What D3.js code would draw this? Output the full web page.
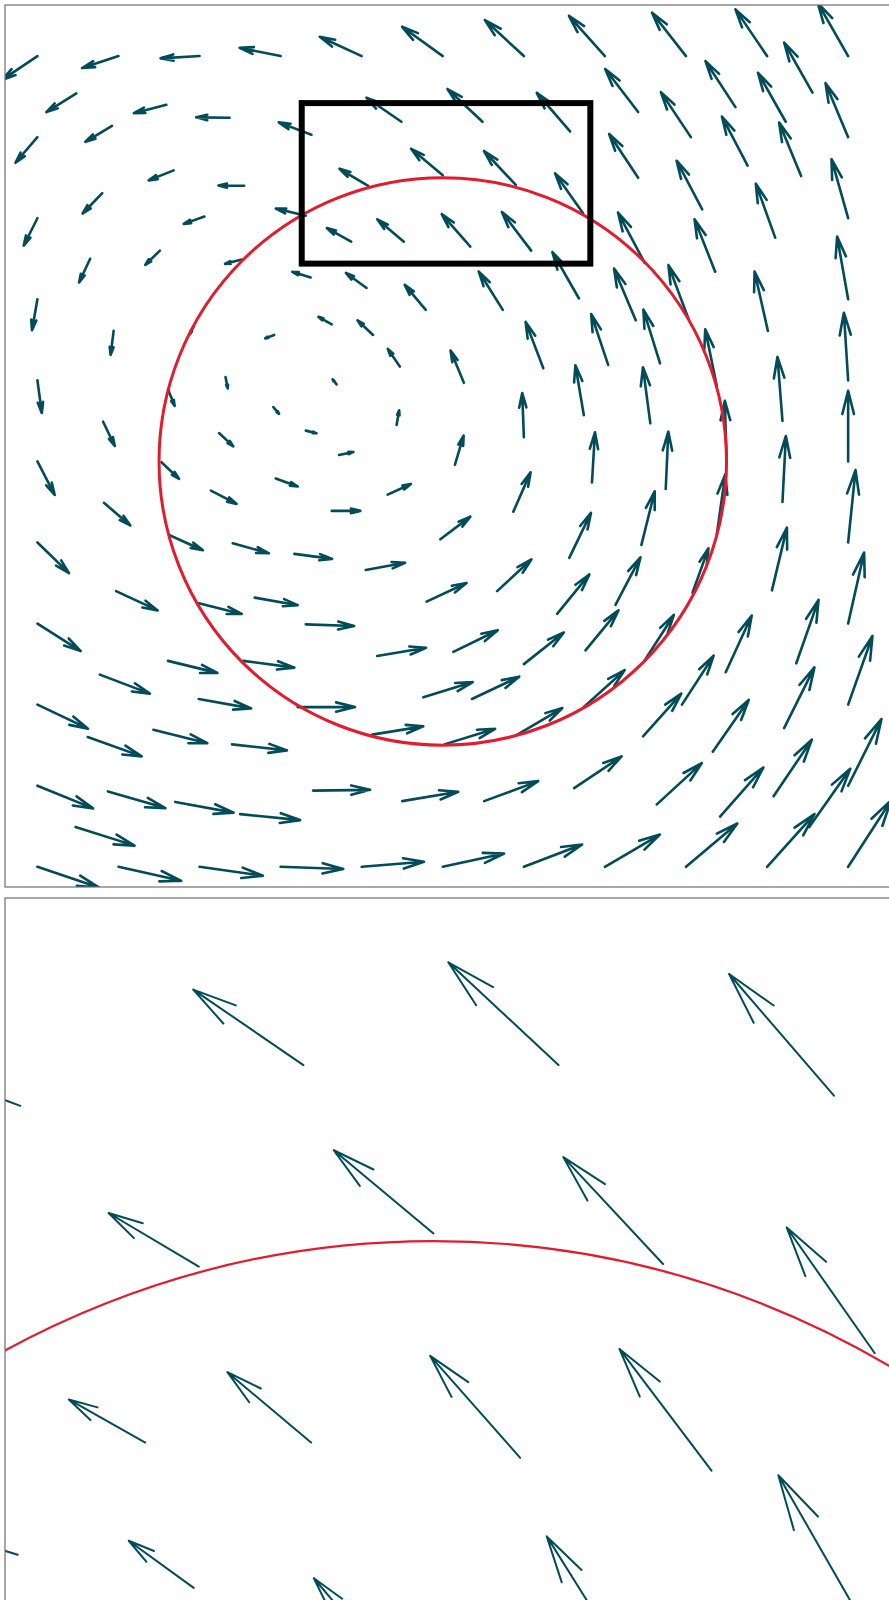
<!DOCTYPE html>
<html>
<head>
<meta charset="utf-8">
<script src="https://cdn.jsdelivr.net/npm/d3@7"></script>
<style>
  html, body { margin: 0; padding: 0; background: #fff; overflow: hidden; }
</style>
</head>
<body>
<svg id="fig" width="889" height="1600"></svg>
<script>
// Sample points of the flow field (tail positions) and the vector at each one.
const tailX = [
  0, 1, 2, 3, 4, 5, 6, 7, 8, 9, 10,
  0.48, 1.59, 2.37, 3.38, 0, 0.92, 1.68, 2.55, 3.31, 0.80, 2.06, 0, 1.51, 2.52, 3.37, 0.65,
  4.49, 5.49, 6.57, 5.00, 5.90, 6.73, 4.08, 3.87, 4.52, 5.34, 6.09, 6.68, 5.74, 4.79, 4.06,
  7.41, 8.61, 9.56, 9.23, 8.06, 10, 7.41, 8.76, 9.42, 8.20, 10, 9.10, 7.49, 8.36, 10, 7.38, 8.03, 9.01,
  0, 0.94, 1.93, 2.92, 0, 2.32, 1.61, 2.91, 0.81, 2.24, 0, 1.53, 2.94, 2.14, 0.82, 1.63, 2.41, 3.17, 0, 0.97,
  3.63, 4.14, 4.47, 5.26, 6.24, 7.04, 3.69, 4.43, 6.00, 6.74, 6.84, 3.31, 3.72, 5.15, 4.32, 3.63, 5.87, 4.97, 6.56, 4.05, 5.67, 4.80, 6.41,
  7.68, 8.38, 8.50, 8.38, 7.56, 9.19, 10, 7.75, 9.19, 10, 7.45, 10, 9.06, 7.13, 8.08, 10,
  6.76, 7.48, 6.74, 8.49, 9.36, 7.95, 10, 7.47, 9.21, 8.33, 6.62, 7.64, 9.08, 10, 8.42, 9.52, 7, 8, 9, 10,
  2.68, 3.31, 4.19, 5.13, 6.00, 3.21, 4.76, 5.36, 5.92, 4.13, 5.02, 3.40, 4.50, 5.51, 3, 4, 5, 6,
  1.99, 0, 1.61, 2.54, 0.77, 1.99, 0, 1.43, 2.40, 0.62, 0, 0.87, 1.70, 2.50, 0.47, 0, 1, 2
];
const tailY = [
  10, 10, 10, 10, 10, 10, 10, 10, 10, 10, 10,
  9.54, 9.40, 9.24, 9.03, 9, 9.14, 8.59, 8.40, 8.03, 8.31, 8.02, 8, 7.60, 7.49, 7.27, 7.50,
  9.19, 9.19, 9.07, 8.53, 8.41, 8.06, 8.40, 7.71, 7.71, 7.65, 7.60, 7.01, 6.87, 6.87, 7.14,
  9.31, 9.37, 9.55, 9.19, 9.00, 9, 8.50, 8.65, 8.52, 8.11, 8, 7.76, 7.45, 7.34, 7, 6.74, 6.76, 6.61,
  7, 6.61, 6.67, 6.56, 6, 6.04, 5.89, 5.67, 5.49, 5.35, 5, 4.99, 4.79, 4.64, 4.49, 4.09, 3.99, 3.86, 4, 3.40,
  6.69, 6.56, 6.17, 5.97, 6.15, 6.19, 5.95, 5.45, 5.30, 5.57, 4.74, 5.38, 5.08, 4.96, 4.59, 4.39, 4.38, 4.04, 3.81, 3.66, 3.40, 3.27, 3.12,
  6.21, 5.93, 5.02, 4.10, 5.47, 5.50, 6, 4.66, 4.50, 5, 3.97, 4, 3.41, 3.23, 3.38, 3,
  2.67, 2.53, 1.97, 2.40, 2.51, 2.00, 2, 1.61, 1.71, 1.42, 0.97, 0.77, 0.87, 1, 0.62, 0.49, 0, 0, 0, 0,
  3.32, 2.99, 2.60, 2.65, 2.50, 1.97, 2.09, 2.07, 1.63, 1.63, 1.51, 0.94, 0.81, 0.81, 0, 0, 0, 0,
  3.25, 3, 2.54, 2.54, 2.37, 2.07, 2, 1.69, 1.51, 1.60, 1, 0.93, 0.80, 0.65, 0.49, 0, 0, 0
];
const vecU = [
  -0.440, -0.448, -0.481, -0.506, -0.518, -0.502, -0.481, -0.444, -0.419, -0.390, -0.374,
  -0.370, -0.400, -0.411, -0.403, -0.271, -0.328, -0.308, -0.317, -0.370, -0.242, -0.255, -0.169, -0.180, -0.206, -0.226, -0.136,
  -0.432, -0.432, -0.411, -0.391, -0.391, -0.345, -0.354, -0.300, -0.328, -0.353, -0.361, -0.328, -0.296, -0.259, -0.255,
  -0.407, -0.370, -0.349, -0.342, -0.370, -0.279, -0.358, -0.317, -0.271, -0.316, -0.205, -0.239, -0.329, -0.255, -0.136, -0.268, -0.247, -0.164,
  -0.067, -0.037, -0.049, -0.111, 0.054, 0.028, 0.083, 0.070, 0.144, 0.176, 0.213, 0.217, 0.271, 0.317, 0.326, 0.411, 0.444, 0.465, 0.390, 0.513,
  -0.164, -0.192, -0.148, -0.164, -0.218, -0.210, -0.049, 0.032, -0.020, -0.104, 0.037, 0.132, 0.178, 0.107, 0.287, 0.353, 0.213, 0.370, 0.268, 0.485, 0.423, 0.493, 0.398,
  -0.206, -0.143, -0.021, 0.104, -0.091, -0.062, -0.053, 0.032, 0.042, 0, 0.164, 0.091, 0.185, 0.308, 0.197, 0.197,
  0.407, 0.370, 0.504, 0.321, 0.275, 0.391, 0.300, 0.472, 0.374, 0.444, 0.585, 0.555, 0.472, 0.411, 0.534, 0.506, 0.678, 0.633, 0.585, 0.530,
  0.530, 0.596, 0.604, 0.548, 0.493, 0.707, 0.609, 0.583, 0.555, 0.629, 0.625, 0.703, 0.691, 0.666, 0.772, 0.768, 0.756, 0.719,
  0.530, 0.534, 0.609, 0.629, 0.617, 0.646, 0.624, 0.666, 0.678, 0.666, 0.686, 0.708, 0.719, 0.740, 0.728, 0.756, 0.773, 0.781
];
const vecV = [
  -0.296, -0.148, -0.028, 0.102, 0.238, 0.361, 0.444, 0.497, 0.534, 0.576, 0.654,
  -0.231, -0.104, 0.004, 0.152, -0.316, -0.197, -0.123, 0.004, 0.090, -0.252, -0.090, -0.337, -0.176, -0.053, 0.069, -0.292,
  0.296, 0.403, 0.477, 0.326, 0.419, 0.493, 0.210, 0.169, 0.276, 0.400, 0.477, 0.572, 0.472, 0.308, 0.185,
  0.530, 0.567, 0.617, 0.604, 0.555, 0.666, 0.539, 0.604, 0.659, 0.599, 0.728, 0.666, 0.620, 0.646, 0.773, 0.638, 0.661, 0.731,
  -0.382, -0.296, -0.099, -0.042, -0.403, -0.139, -0.206, -0.083, -0.300, -0.164, -0.414, -0.205, -0.099, -0.164, -0.279, -0.185, -0.123, -0.062, -0.377, -0.238,
  0.094, 0.181, 0.218, 0.398, 0.571, 0.629, 0.062, 0.181, 0.543, 0.617, 0.619, -0.033, 0.037, 0.358, 0.132, 0, 0.485, 0.279, 0.555, 0.090, 0.391, 0.231, 0.486,
  0.662, 0.699, 0.728, 0.740, 0.691, 0.789, 0.834, 0.707, 0.814, 0.872, 0.661, 0.893, 0.773, 0.587, 0.548, 0.876,
  0.493, 0.576, 0.456, 0.699, 0.782, 0.604, 0.847, 0.525, 0.749, 0.638, 0.391, 0.509, 0.698, 0.822, 0.604, 0.719, 0.398, 0.534, 0.650, 0.820,
  -0.093, -0.020, 0.102, 0.268, 0.390, 0, 0.189, 0.275, 0.328, 0.102, 0.192, 0.009, 0.115, 0.247, -0.028, 0.062, 0.164, 0.275,
  -0.131, -0.340, -0.148, -0.083, -0.234, -0.116, -0.296, -0.165, -0.074, -0.238, -0.280, -0.206, -0.132, -0.074, -0.229, -0.255, -0.173, -0.111
];

// Reference circle and the highlighted region
const circleCenter = [5, 5];
const circleRadius = 3.5;
const zoomRegionX = [3.26, 6.82];
const zoomRegionY = [7.44, 9.42];

// View limits (equal aspect; the lower edge follows from the panel height)
const mainXLimits = [-0.40, 10.80];
const mainYTop = 10.63;
const detailXLimits = [3.32, 6.88];
const detailYTop = 9.845;

const ARROW = "#024c5a";
const RED = "#e31b2d";

const svg = d3.select("#fig");
svg.append("rect").attr("width", 889).attr("height", 1600).attr("fill", "#fff");

const n = Math.min(tailX.length, tailY.length, vecU.length, vecV.length);

function arrowPath(sx, sy, i) {
  const x0 = sx(tailX[i]), y0 = sy(tailY[i]);
  const x1 = sx(tailX[i] + vecU[i]), y1 = sy(tailY[i] + vecV[i]);
  const len = Math.hypot(x1 - x0, y1 - y0);
  const head = len * 0.34;
  const back = Math.atan2(y0 - y1, x0 - x1);
  const spread = 14 * Math.PI / 180;
  const p = d3.path();
  p.moveTo(x0, y0);
  p.lineTo(x1, y1);
  p.moveTo(x1 + head * Math.cos(back + spread), y1 + head * Math.sin(back + spread));
  p.lineTo(x1, y1);
  p.lineTo(x1 + head * Math.cos(back - spread), y1 + head * Math.sin(back - spread));
  return p.toString();
}

function drawPanel(box, xLimits, yTop, id, style) {
  const k = box.width / (xLimits[1] - xLimits[0]);
  const yLimits = [yTop - box.height / k, yTop];
  const sx = d3.scaleLinear().domain(xLimits).range([box.left, box.left + box.width]);
  const sy = d3.scaleLinear().domain(yLimits).range([box.top + box.height, box.top]);

  svg.append("clipPath").attr("id", id)
    .append("rect")
    .attr("x", box.left).attr("y", box.top)
    .attr("width", box.width).attr("height", box.height);

  const g = svg.append("g").attr("clip-path", `url(#${id})`);

  g.append("g")
    .selectAll("path")
    .data(d3.range(n))
    .join("path")
    .attr("d", i => arrowPath(sx, sy, i))
    .attr("fill", "none")
    .attr("stroke", ARROW)
    .attr("stroke-width", style.arrowWidth)
    .attr("stroke-linecap", "round")
    .attr("stroke-linejoin", "round");

  g.append("ellipse")
    .attr("cx", sx(circleCenter[0]))
    .attr("cy", sy(circleCenter[1]))
    .attr("rx", sx(circleCenter[0] + circleRadius) - sx(circleCenter[0]))
    .attr("ry", sy(circleCenter[1]) - sy(circleCenter[1] + circleRadius))
    .attr("fill", "none")
    .attr("stroke", RED)
    .attr("stroke-width", style.circleWidth);

  if (style.showRegion) {
    g.append("rect")
      .attr("x", sx(zoomRegionX[0]))
      .attr("y", sy(zoomRegionY[1]))
      .attr("width", sx(zoomRegionX[1]) - sx(zoomRegionX[0]))
      .attr("height", sy(zoomRegionY[0]) - sy(zoomRegionY[1]))
      .attr("fill", "none")
      .attr("stroke", "#000")
      .attr("stroke-width", 6);
  }

  svg.append("rect")
    .attr("x", box.left).attr("y", box.top)
    .attr("width", box.width).attr("height", box.height)
    .attr("fill", "none")
    .attr("stroke", "#6e6e6e")
    .attr("stroke-width", 1.2);
}

drawPanel({ left: 5, top: 5, width: 908, height: 882 }, mainXLimits, mainYTop, "clip-main",
  { arrowWidth: 2.6, circleWidth: 3, showRegion: true });
drawPanel({ left: 5, top: 898, width: 908, height: 717 }, detailXLimits, detailYTop, "clip-detail",
  { arrowWidth: 2.0, circleWidth: 2.2, showRegion: false });
</script>
</body>
</html>
